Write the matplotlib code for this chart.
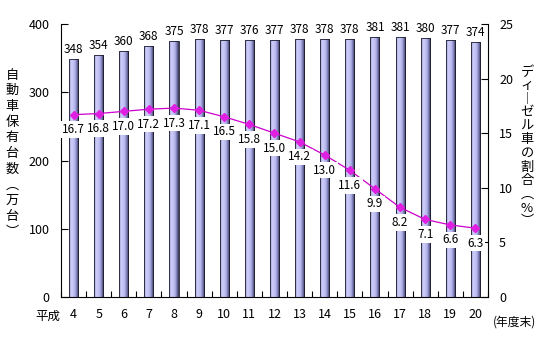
import numpy as np
import matplotlib
matplotlib.use("Agg")
import matplotlib.pyplot as plt
from matplotlib.colors import LinearSegmentedColormap

plt.rcParams['font.family'] = ['Noto Sans CJK JP', 'DejaVu Sans']

# fiscal year-end (Heisei), vehicles owned (10k units), diesel share (%)
years = ['4', '5', '6', '7', '8', '9', '10', '11', '12', '13', '14', '15',
         '16', '17', '18', '19', '20']
vehicles = [348, 354, 360, 368, 375, 378, 377, 376, 377, 378, 378, 378,
            381, 381, 380, 377, 374]
diesel_share = [16.7, 16.8, 17.0, 17.2, 17.3, 17.1, 16.5, 15.8, 15.0, 14.2,
                13.0, 11.6, 9.9, 8.2, 7.1, 6.6, 6.3]

left_label = "自動車保有台数︵万台︶"
right_label = "ディ︱ゼル車の割合︵%︶"

W, H = 542, 342
fig = plt.figure(figsize=(W / 100, H / 100), dpi=100)
ax = fig.add_axes([0.1125, 0.1316, 0.7879, 0.7982])
ax2 = ax.twinx()

x = np.arange(len(years))

# cylinder-like shading for the bars
shade = LinearSegmentedColormap.from_list(
    "bar_shade",
    [(0.0, "#9898d0"), (0.25, "#d0d0fa"), (0.6, "#b4b4ec"),
     (0.82, "#7070a8"), (1.0, "#30304a")])
grad = np.linspace(0, 1, 64).reshape(1, -1)

bars = ax.bar(x, vehicles, width=0.36, color="none", edgecolor="#1a1a2a",
              linewidth=0.6, zorder=3)
for b in bars:
    x0, y0 = b.get_x(), b.get_y()
    im = ax.imshow(grad, cmap=shade, aspect="auto", zorder=2,
                   extent=[x0, x0 + b.get_width(), y0, y0 + b.get_height()])
    im.set_clip_path(b)

for xi, v in zip(x, vehicles):
    ax.annotate(str(v), (xi, v), xytext=(0, 3), textcoords="offset pixels",
                ha="center", va="bottom", fontsize=8.5, zorder=5)

ax.set_xlim(-0.5, len(years) - 0.5)
ax.set_ylim(0, 400)
ax.set_yticks([0, 100, 200, 300, 400])
ax.set_xticks(x)
ax.set_xticklabels(years, fontsize=9)
ax.set_xticks(np.arange(len(years) + 1) - 0.5, minor=True)
ax.tick_params(axis="x", which="major", length=0, pad=8)
ax.tick_params(axis="x", which="minor", direction="in", length=4, width=0.8)
ax.tick_params(axis="y", direction="in", length=5, width=0.8, labelsize=9,
               pad=8)
ax.spines["top"].set_visible(False)
ax.spines["right"].set_visible(False)
for s in ("left", "bottom"):
    ax.spines[s].set_linewidth(0.8)

# diesel share line
ax2.plot(x, diesel_share, color="#cc00cc", linewidth=0.9, marker="D",
         markersize=4, markerfacecolor="#e020e0", markeredgecolor="#e020e0",
         zorder=4)
for xi, v in zip(x, diesel_share):
    ax2.annotate(f"{v:.1f}", (xi, v), xytext=(0, -15),
                 textcoords="offset pixels", ha="center", va="center",
                 fontsize=8.5, zorder=5,
                 bbox=dict(boxstyle="square,pad=0.15", fc="white", ec="none"))
ax2.set_ylim(0, 25)
ax2.set_yticks([0, 5, 10, 15, 20, 25])
ax2.tick_params(axis="y", direction="in", length=5, width=0.8, labelsize=9,
                pad=8)
ax2.spines["top"].set_visible(False)
ax2.spines["left"].set_visible(False)
ax2.spines["bottom"].set_visible(False)
ax2.spines["right"].set_linewidth(0.8)


def vertical_title(text, xpix, ytop, step):
    # stack characters top to bottom, one per slot
    for i, ch in enumerate(text):
        fig.text(xpix / W, 1 - (ytop + i * step) / H, ch, ha="center",
                 va="center", fontsize=9.5)


vertical_title(left_label, 12, 75, 15.7)
vertical_title(right_label, 527, 72, 13.6)

fig.text(48 / W, 1 - 316 / H, "平成", ha="center", va="center", fontsize=9)
fig.text(515 / W, 1 - 322 / H, "(年度末)", ha="center", va="center",
         fontsize=8.5)

fig.savefig("out.png", dpi=100)
